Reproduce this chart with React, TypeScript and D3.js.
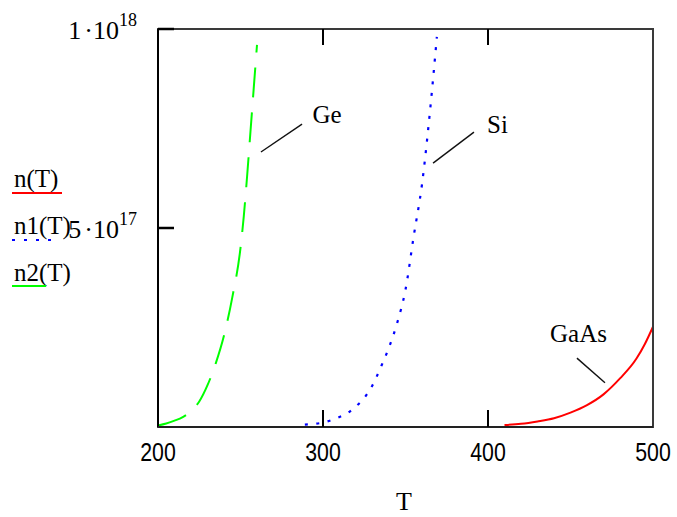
import React from "react";
import * as d3 from "d3";

// Data (n in units of 1e18 cm^-3)
const T_GAAS = [410, 420, 430, 440, 450, 460, 470, 480, 490, 495, 500];
const N_GAAS = [0.005, 0.008, 0.014, 0.022, 0.036, 0.055, 0.082, 0.122, 0.172, 0.208, 0.252];

const T_SI = [289, 295, 300, 305, 310, 315, 320, 325, 330, 335, 340, 345, 350, 355, 360, 365, 369];
const N_SI = [0.006, 0.008, 0.011, 0.017, 0.025, 0.035, 0.052, 0.073, 0.105, 0.15, 0.2, 0.262, 0.345, 0.48, 0.61, 0.8, 0.98];

const T_GE = [200, 205, 210, 215, 220, 225, 230, 235, 240, 245, 250, 252, 254, 256, 258, 260];
const N_GE = [0.004, 0.009, 0.016, 0.025, 0.04, 0.064, 0.105, 0.16, 0.23, 0.325, 0.45, 0.53, 0.63, 0.74, 0.85, 0.96];

const X_TICKS = [200, 300, 400, 500];
const Y_TICKS = [0.5, 1];
const Y_TICK_MANT = ["5", "1"];
const Y_TICK_EXP = ["17", "18"];

const LEGEND_LABELS = ["n(T)", "n1(T)", "n2(T)"];
const ANNOT_LABELS = ["Ge", "Si", "GaAs"];
const ANNOT_FROM = [[262.4, 0.691], [366.7, 0.663], [470.9, 0.111]];
const ANNOT_TO = [[287.3, 0.761], [391.5, 0.741], [453.9, 0.173]];
const ANNOT_TEXT_AT = [[293.6, 0.764], [399.4, 0.739], [437.6, 0.214]];

const W = 677, H = 517;
const L = 158, R = 653, TOP = 29, BOT = 427;

export default function App() {
  const x = d3.scaleLinear().domain([200, 500]).range([L, R]);
  const y = d3.scaleLinear().domain([0, 1]).range([BOT, TOP]);
  const line = d3
    .line<[number, number]>()
    .x((d) => x(d[0]))
    .y((d) => y(d[1]))
    .curve(d3.curveMonotoneX);

  const zip = (a: number[], b: number[]) => a.map((v, i) => [v, b[i]] as [number, number]);

  const series = [
    { pts: zip(T_GAAS, N_GAAS), color: "#ff0000", dash: undefined as string | undefined, w: 2 },
    { pts: zip(T_SI, N_SI), color: "#0000ff", dash: "3,8.5", w: 2.2 },
    { pts: zip(T_GE, N_GE), color: "#00ff00", dash: "30,15", w: 2 },
  ];

  const serif = "'Liberation Serif', 'Times New Roman', serif";
  const sans = "'Liberation Sans', Arial, sans-serif";

  const legendY = [187, 234, 281];
  const legendLineY = [193, 240, 286];
  const legendLineX2 = [62, 52, 46];

  return (
    <svg width={W} height={H} style={{ position: "absolute", left: 0, top: 0, background: "#fff" }}>
      <defs>
        <clipPath id="plot">
          <rect x={L} y={TOP} width={R - L} height={BOT - TOP} />
        </clipPath>
      </defs>

      {/* curves */}
      <g clipPath="url(#plot)">
        {series.map((s, i) => (
          <path key={i} d={line(s.pts) || ""} fill="none" stroke={s.color} strokeWidth={s.w} strokeDasharray={s.dash} />
        ))}
      </g>

      {/* frame */}
      <rect x={L} y={TOP} width={R - L} height={BOT - TOP} fill="none" stroke="#3a3a3a" strokeWidth={2} />
      <line x1={L} y1={TOP} x2={L} y2={BOT} stroke="#000" strokeWidth={2} />
      <line x1={L} y1={BOT} x2={R} y2={BOT} stroke="#222" strokeWidth={2} />

      {/* x ticks (inward, bottom and top) */}
      {X_TICKS.filter((t) => t > 200 && t < 500).map((t) => (
        <g key={t}>
          <line x1={x(t)} x2={x(t)} y1={BOT} y2={BOT - 17} stroke="#000" strokeWidth={2} />
          <line x1={x(t)} x2={x(t)} y1={TOP} y2={TOP + 16} stroke="#000" strokeWidth={2} />
        </g>
      ))}
      {/* y ticks */}
      {Y_TICKS.map((v) => (
        <line key={v} x1={L} x2={L + 16} y1={y(v)} y2={y(v)} stroke="#000" strokeWidth={2.5} />
      ))}

      {/* x tick labels */}
      {X_TICKS.map((t) => (
        <text
          key={t}
          transform={`translate(${x(t)},461) scale(0.82,1)`}
          textAnchor="middle"
          fontFamily={sans}
          fontSize={26}
          fill="#000"
        >
          {t}
        </text>
      ))}

      {/* y tick labels */}
      {Y_TICKS.map((v, i) => (
        <text key={v} x={137} y={y(v) + 10} textAnchor="end" fontFamily={serif} fontSize={26} fill="#000">
          {Y_TICK_MANT[i]}
          <tspan dx={3}>·10</tspan>
          <tspan dy={-13} fontSize={18}>{Y_TICK_EXP[i]}</tspan>
        </text>
      ))}

      {/* x axis title */}
      <text x={404} y={510} textAnchor="middle" fontFamily={serif} fontSize={26} fill="#000">
        T
      </text>

      {/* legend */}
      {LEGEND_LABELS.map((lab, i) => (
        <g key={lab}>
          <text x={14} y={legendY[i]} fontFamily={serif} fontSize={25} fill="#000">
            {lab}
          </text>
          <line
            x1={12}
            x2={legendLineX2[i]}
            y1={legendLineY[i]}
            y2={legendLineY[i]}
            stroke={series[i].color}
            strokeWidth={2}
            strokeDasharray={i === 1 ? "3,9" : undefined}
          />
        </g>
      ))}

      {/* annotations */}
      {ANNOT_LABELS.map((lab, i) => (
        <g key={lab}>
          <line
            x1={x(ANNOT_FROM[i][0])}
            y1={y(ANNOT_FROM[i][1])}
            x2={x(ANNOT_TO[i][0])}
            y2={y(ANNOT_TO[i][1])}
            stroke="#111"
            strokeWidth={1.4}
          />
          <text x={x(ANNOT_TEXT_AT[i][0])} y={y(ANNOT_TEXT_AT[i][1])} fontFamily={serif} fontSize={25} fill="#000">
            {lab}
          </text>
        </g>
      ))}
    </svg>
  );
}
